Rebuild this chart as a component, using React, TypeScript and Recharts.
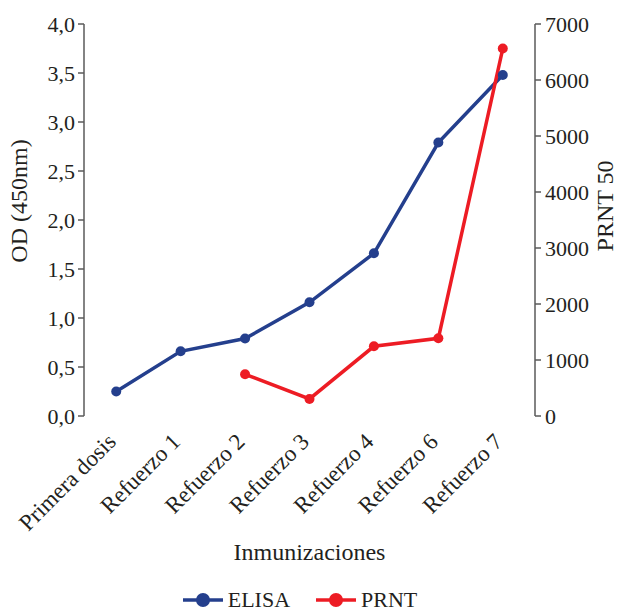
import React from 'react';
import { LineChart, Line, XAxis, YAxis, Legend, Label } from 'recharts';

const categories = ['Primera dosis', 'Refuerzo 1', 'Refuerzo 2', 'Refuerzo 3', 'Refuerzo 4', 'Refuerzo 6', 'Refuerzo 7'];
const elisaOD = [0.25, 0.66, 0.79, 1.16, 1.66, 2.79, 3.48];
const prnt50: (number | null)[] = [null, null, 745, 304, 1245, 1387, 6561];
const odTicks = [0, 0.5, 1, 1.5, 2, 2.5, 3, 3.5, 4];
const prntTicks = [0, 1000, 2000, 3000, 4000, 5000, 6000, 7000];
const categoryCenters = [0, 1, 2, 3, 4, 5, 6];
const categoryBoundaries = [-0.5, 0.5, 1.5, 2.5, 3.5, 4.5, 5.5, 6.5];

const data = categories.map((name, i) => ({ idx: i, name, elisa: elisaOD[i], prnt: prnt50[i] }));

const FONT = "'Liberation Serif', 'Times New Roman', serif";
const TEXT = '#231f20';
const AXIS = '#5a5a5a';
const BLUE = '#243f8d';
const RED = '#ed1c24';

const series = [
  { name: 'ELISA', color: BLUE },
  { name: 'PRNT', color: RED },
];

const CategoryTick = (props: any) => {
  const { x, y, payload } = props;
  const label = categories[payload.value];
  const ax = x + 1;
  const ay = y + 27;
  return (
    <text x={ax} y={ay} transform={`rotate(-45, ${ax}, ${ay})`} textAnchor="end" fontSize={23} fill={TEXT} style={{ fontFamily: FONT }}>
      {label}
    </text>
  );
};

const NumTick = (props: any) => {
  const { x, y, payload, textAnchor, fmt } = props;
  return (
    <text x={x} y={y} dy="0.35em" textAnchor={textAnchor} fontSize={22} fill={TEXT} style={{ fontFamily: FONT }}>
      {fmt ? fmt(payload.value) : payload.value}
    </text>
  );
};

const fmtComma = (v: number) => v.toFixed(1).replace('.', ',');

const LegendContent = () => (
  <div
    style={{
      display: 'flex',
      justifyContent: 'center',
      alignItems: 'center',
      height: 36,
      paddingTop: 12,
      paddingRight: 20,
      boxSizing: 'border-box',
      fontFamily: FONT,
      fontSize: 22,
      color: TEXT,
    }}
  >
    {series.map((s, i) => (
      <div key={s.name} style={{ display: 'flex', alignItems: 'center', marginLeft: i === 0 ? 0 : 26 }}>
        <svg width={40} height={16}>
          <line x1={0} y1={8} x2={40} y2={8} stroke={s.color} strokeWidth={3.5} />
          <circle cx={20} cy={8} r={7} fill={s.color} />
        </svg>
        <span style={{ marginLeft: 5, lineHeight: '24px' }}>{s.name}</span>
      </div>
    ))}
  </div>
);

export default function App() {
  return (
    <div style={{ position: 'absolute', left: 0, top: 0, fontFamily: FONT }}>
      <LineChart width={620} height={612} data={data} margin={{ top: 24, right: 0, bottom: 0, left: 0 }} style={{ fontFamily: FONT }}>
        <XAxis
          xAxisId="ticks"
          type="number"
          dataKey="idx"
          domain={[-0.5, 6.5]}
          ticks={categoryBoundaries}
          tick={false}
          tickSize={6}
          height={0}
          axisLine={{ stroke: AXIS, strokeWidth: 1.5 }}
          tickLine={{ stroke: AXIS, strokeWidth: 1.5 }}
        />
        <XAxis
          xAxisId="cat"
          type="number"
          dataKey="idx"
          domain={[-0.5, 6.5]}
          ticks={categoryCenters}
          tick={<CategoryTick />}
          tickLine={false}
          axisLine={false}
          tickSize={0}
          tickMargin={0}
          height={160}
          interval={0}
        >
          <Label
            content={(p: any) => {
              const vb = p.viewBox;
              return (
                <text x={vb.x + vb.width / 2} y={vb.y + 144} textAnchor="middle" fontSize={24} fill={TEXT} style={{ fontFamily: FONT }}>
                  Inmunizaciones
                </text>
              );
            }}
          />
        </XAxis>
        <YAxis
          yAxisId="od"
          width={84}
          domain={[0, 4]}
          ticks={odTicks}
          interval={0}
          tick={<NumTick fmt={fmtComma} />}
          tickSize={6}
          tickMargin={3}
          axisLine={{ stroke: AXIS, strokeWidth: 1.5 }}
          tickLine={{ stroke: AXIS, strokeWidth: 1.5 }}
        >
          <Label
            content={(p: any) => {
              const vb = p.viewBox;
              const cx = vb.x + 19;
              const cy = vb.y + vb.height / 2 - 19;
              return (
                <text x={cx} y={cy} transform={`rotate(-90, ${cx}, ${cy})`} textAnchor="middle" dominantBaseline="central" fontSize={24} fill={TEXT} style={{ fontFamily: FONT }}>
                  OD (450nm)
                </text>
              );
            }}
          />
        </YAxis>
        <YAxis
          yAxisId="prnt"
          orientation="right"
          width={85}
          domain={[0, 7000]}
          ticks={prntTicks}
          interval={0}
          tick={<NumTick />}
          tickSize={6}
          tickMargin={4}
          axisLine={{ stroke: AXIS, strokeWidth: 1.5 }}
          tickLine={{ stroke: AXIS, strokeWidth: 1.5 }}
        >
          <Label
            content={(p: any) => {
              const vb = p.viewBox;
              const cx = vb.x + 70;
              const cy = vb.y + vb.height / 2 - 14;
              return (
                <text x={cx} y={cy} transform={`rotate(-90, ${cx}, ${cy})`} textAnchor="middle" dominantBaseline="central" fontSize={24} fill={TEXT} style={{ fontFamily: FONT }}>
                  PRNT 50
                </text>
              );
            }}
          />
        </YAxis>
        <Line
          xAxisId="cat"
          yAxisId="od"
          dataKey="elisa"
          name="ELISA"
          stroke={BLUE}
          strokeWidth={3.5}
          dot={{ r: 5, fill: BLUE, stroke: BLUE, strokeWidth: 0 }}
          isAnimationActive={false}
        />
        <Line
          xAxisId="cat"
          yAxisId="prnt"
          dataKey="prnt"
          name="PRNT"
          stroke={RED}
          strokeWidth={3.5}
          dot={{ r: 5, fill: RED, stroke: RED, strokeWidth: 0 }}
          isAnimationActive={false}
        />
        <Legend verticalAlign="bottom" content={<LegendContent />} />
      </LineChart>
    </div>
  );
}
